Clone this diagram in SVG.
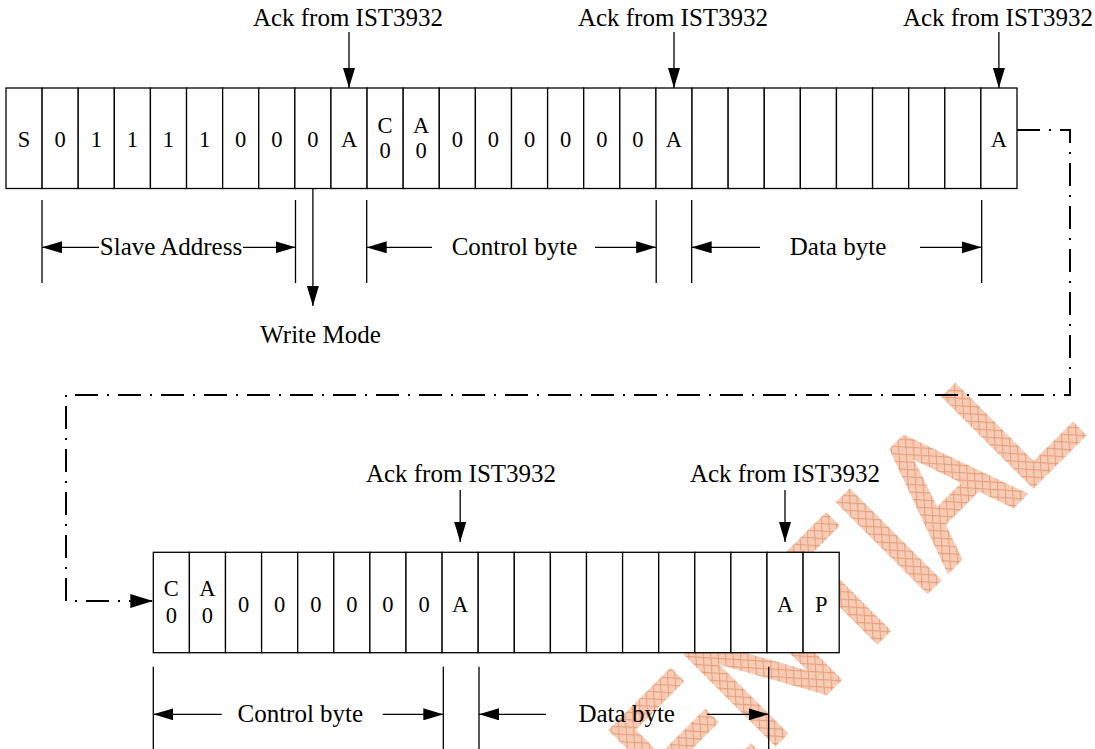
<svg xmlns="http://www.w3.org/2000/svg" width="1095" height="749" viewBox="0 0 1095 749">
<style>
.cell{fill:#fff;stroke:#000;stroke-width:1.3}
.ct{font-family:"Liberation Serif","Times New Roman",serif;font-size:22.5px;text-anchor:middle;fill:#000}
.lbl{font-family:"Liberation Serif","Times New Roman",serif;font-size:25px;text-anchor:middle;fill:#000}
.ln{stroke:#000;stroke-width:1.3;fill:none}
.arr{stroke:#000;stroke-width:1.3;fill:none;marker-end:url(#ah)}
.dd{stroke:#000;stroke-width:2;fill:none;stroke-dasharray:23 9 2 9;marker-end:url(#ahb)}
</style>
<defs>
<marker id="ah" markerUnits="userSpaceOnUse" markerWidth="20" markerHeight="12" viewBox="0 0 20 12" refX="20" refY="6" orient="auto"><path d="M0,0L20,6L0,12z" fill="#000" stroke="none"/></marker>
<marker id="ahb" markerUnits="userSpaceOnUse" markerWidth="23" markerHeight="14" viewBox="0 0 23 14" refX="23" refY="7" orient="auto"><path d="M0,0L23,7L0,14z" fill="#000" stroke="none"/></marker>
<pattern id="hatch" width="7" height="7" patternUnits="userSpaceOnUse" patternTransform="rotate(45)"><rect width="7" height="7" fill="#f6ccb6"/><path d="M0,0.5H7M0.5,0V7" stroke="#e8a07c" stroke-width="1"/></pattern>
</defs>
<rect width="1095" height="749" fill="#fff"/>
<g id="watermark"><text transform="translate(257,1261) rotate(-45) scale(1,1.13)" font-family="'Liberation Sans',Arial,sans-serif" font-size="160" fill="url(#hatch)" stroke="url(#hatch)" stroke-width="5" stroke-linejoin="miter">CONFIDENTIAL</text></g>

<g id="connectors">
<line class="arr" x1="349" y1="32" x2="349" y2="88"/>
<line class="arr" x1="674" y1="32" x2="674" y2="88"/>
<line class="arr" x1="998.9" y1="32" x2="998.9" y2="88"/>
<line class="arr" x1="312.9" y1="188.5" x2="312.9" y2="306"/>
<line class="arr" x1="460.2" y1="490" x2="460.2" y2="542"/>
<line class="arr" x1="785" y1="490" x2="785" y2="542"/>
<path class="dd" d="M1017,130H1070V395H66V601H153.3"/>
<g id="dims-top">
<line class="ln" x1="42" y1="200" x2="42" y2="283"/>
<line class="ln" x1="295.5" y1="200" x2="295.5" y2="283"/>
<line class="ln" x1="366.7" y1="200" x2="366.7" y2="283"/>
<line class="ln" x1="656.2" y1="200" x2="656.2" y2="283"/>
<line class="ln" x1="691.7" y1="200" x2="691.7" y2="283"/>
<line class="ln" x1="981.7" y1="200" x2="981.7" y2="283"/>
<line class="arr" x1="99" y1="247.3" x2="42" y2="247.3"/>
<line class="arr" x1="243" y1="247.3" x2="295.5" y2="247.3"/>
<line class="arr" x1="432" y1="247.3" x2="366.7" y2="247.3"/>
<line class="arr" x1="595" y1="247.3" x2="656.2" y2="247.3"/>
<line class="arr" x1="760" y1="247.3" x2="691.7" y2="247.3"/>
<line class="arr" x1="920" y1="247.3" x2="981.7" y2="247.3"/>
</g>
<g id="dims-bottom">
<line class="ln" x1="153.3" y1="666.7" x2="153.3" y2="749"/>
<line class="ln" x1="443.3" y1="666.7" x2="443.3" y2="749"/>
<line class="ln" x1="479" y1="666.7" x2="479" y2="749"/>
<line class="ln" x1="768.7" y1="666.7" x2="768.7" y2="749"/>
<line class="arr" x1="221.7" y1="714.3" x2="153.3" y2="714.3"/>
<line class="arr" x1="382.7" y1="714.3" x2="443.3" y2="714.3"/>
<line class="arr" x1="546" y1="714.3" x2="479" y2="714.3"/>
<line class="arr" x1="707.3" y1="714.3" x2="768.7" y2="714.3"/>
</g>
</g>

<g id="row1">
<g id="c1-0"><rect class="cell" x="6" y="88" width="36.11" height="100.5"/><text class="ct" x="24.05" y="147">S</text></g>
<g id="c1-1"><rect class="cell" x="42.11" y="88" width="36.11" height="100.5"/><text class="ct" x="60.16" y="147">0</text></g>
<g id="c1-2"><rect class="cell" x="78.21" y="88" width="36.11" height="100.5"/><text class="ct" x="96.26" y="147">1</text></g>
<g id="c1-3"><rect class="cell" x="114.32" y="88" width="36.11" height="100.5"/><text class="ct" x="132.37" y="147">1</text></g>
<g id="c1-4"><rect class="cell" x="150.43" y="88" width="36.11" height="100.5"/><text class="ct" x="168.48" y="147">1</text></g>
<g id="c1-5"><rect class="cell" x="186.54" y="88" width="36.11" height="100.5"/><text class="ct" x="204.59" y="147">1</text></g>
<g id="c1-6"><rect class="cell" x="222.64" y="88" width="36.11" height="100.5"/><text class="ct" x="240.69" y="147">0</text></g>
<g id="c1-7"><rect class="cell" x="258.75" y="88" width="36.11" height="100.5"/><text class="ct" x="276.8" y="147">0</text></g>
<g id="c1-8"><rect class="cell" x="294.86" y="88" width="36.11" height="100.5"/><text class="ct" x="312.91" y="147">0</text></g>
<g id="c1-9"><rect class="cell" x="330.96" y="88" width="36.11" height="100.5"/><text class="ct" x="349.01" y="147">A</text></g>
<g id="c1-10"><rect class="cell" x="367.07" y="88" width="36.11" height="100.5"/><text class="ct" x="385.12" y="133">C</text><text class="ct" x="385.12" y="158">0</text></g>
<g id="c1-11"><rect class="cell" x="403.18" y="88" width="36.11" height="100.5"/><text class="ct" x="421.23" y="133">A</text><text class="ct" x="421.23" y="158">0</text></g>
<g id="c1-12"><rect class="cell" x="439.29" y="88" width="36.11" height="100.5"/><text class="ct" x="457.34" y="147">0</text></g>
<g id="c1-13"><rect class="cell" x="475.39" y="88" width="36.11" height="100.5"/><text class="ct" x="493.44" y="147">0</text></g>
<g id="c1-14"><rect class="cell" x="511.5" y="88" width="36.11" height="100.5"/><text class="ct" x="529.55" y="147">0</text></g>
<g id="c1-15"><rect class="cell" x="547.61" y="88" width="36.11" height="100.5"/><text class="ct" x="565.66" y="147">0</text></g>
<g id="c1-16"><rect class="cell" x="583.71" y="88" width="36.11" height="100.5"/><text class="ct" x="601.76" y="147">0</text></g>
<g id="c1-17"><rect class="cell" x="619.82" y="88" width="36.11" height="100.5"/><text class="ct" x="637.87" y="147">0</text></g>
<g id="c1-18"><rect class="cell" x="655.93" y="88" width="36.11" height="100.5"/><text class="ct" x="673.98" y="147">A</text></g>
<g id="c1-19"><rect class="cell" x="692.04" y="88" width="36.11" height="100.5"/></g>
<g id="c1-20"><rect class="cell" x="728.14" y="88" width="36.11" height="100.5"/></g>
<g id="c1-21"><rect class="cell" x="764.25" y="88" width="36.11" height="100.5"/></g>
<g id="c1-22"><rect class="cell" x="800.36" y="88" width="36.11" height="100.5"/></g>
<g id="c1-23"><rect class="cell" x="836.46" y="88" width="36.11" height="100.5"/></g>
<g id="c1-24"><rect class="cell" x="872.57" y="88" width="36.11" height="100.5"/></g>
<g id="c1-25"><rect class="cell" x="908.68" y="88" width="36.11" height="100.5"/></g>
<g id="c1-26"><rect class="cell" x="944.79" y="88" width="36.11" height="100.5"/></g>
<g id="c1-27"><rect class="cell" x="980.89" y="88" width="36.11" height="100.5"/><text class="ct" x="998.94" y="147">A</text></g>
</g>

<g id="row2">
<g id="c2-0"><rect class="cell" x="153.3" y="552.3" width="36.1" height="100.4"/><text class="ct" x="171.35" y="596">C</text><text class="ct" x="171.35" y="622.5">0</text></g>
<g id="c2-1"><rect class="cell" x="189.4" y="552.3" width="36.1" height="100.4"/><text class="ct" x="207.45" y="596">A</text><text class="ct" x="207.45" y="622.5">0</text></g>
<g id="c2-2"><rect class="cell" x="225.5" y="552.3" width="36.1" height="100.4"/><text class="ct" x="243.55" y="611.5">0</text></g>
<g id="c2-3"><rect class="cell" x="261.6" y="552.3" width="36.1" height="100.4"/><text class="ct" x="279.65" y="611.5">0</text></g>
<g id="c2-4"><rect class="cell" x="297.7" y="552.3" width="36.1" height="100.4"/><text class="ct" x="315.75" y="611.5">0</text></g>
<g id="c2-5"><rect class="cell" x="333.8" y="552.3" width="36.1" height="100.4"/><text class="ct" x="351.85" y="611.5">0</text></g>
<g id="c2-6"><rect class="cell" x="369.9" y="552.3" width="36.1" height="100.4"/><text class="ct" x="387.95" y="611.5">0</text></g>
<g id="c2-7"><rect class="cell" x="406" y="552.3" width="36.1" height="100.4"/><text class="ct" x="424.05" y="611.5">0</text></g>
<g id="c2-8"><rect class="cell" x="442.1" y="552.3" width="36.1" height="100.4"/><text class="ct" x="460.15" y="611.5">A</text></g>
<g id="c2-9"><rect class="cell" x="478.2" y="552.3" width="36.1" height="100.4"/></g>
<g id="c2-10"><rect class="cell" x="514.3" y="552.3" width="36.1" height="100.4"/></g>
<g id="c2-11"><rect class="cell" x="550.4" y="552.3" width="36.1" height="100.4"/></g>
<g id="c2-12"><rect class="cell" x="586.5" y="552.3" width="36.1" height="100.4"/></g>
<g id="c2-13"><rect class="cell" x="622.6" y="552.3" width="36.1" height="100.4"/></g>
<g id="c2-14"><rect class="cell" x="658.7" y="552.3" width="36.1" height="100.4"/></g>
<g id="c2-15"><rect class="cell" x="694.8" y="552.3" width="36.1" height="100.4"/></g>
<g id="c2-16"><rect class="cell" x="730.9" y="552.3" width="36.1" height="100.4"/></g>
<g id="c2-17"><rect class="cell" x="767" y="552.3" width="36.1" height="100.4"/><text class="ct" x="785.05" y="611.5">A</text></g>
<g id="c2-18"><rect class="cell" x="803.1" y="552.3" width="36.1" height="100.4"/><text class="ct" x="821.15" y="611.5">P</text></g>
</g>

<g id="labels">
<text class="lbl" x="348" y="26">Ack from IST3932</text>
<text class="lbl" x="673" y="26">Ack from IST3932</text>
<text class="lbl" x="998" y="26">Ack from IST3932</text>
<text class="lbl" x="171" y="255">Slave Address</text>
<text class="lbl" x="514.5" y="255">Control byte</text>
<text class="lbl" x="838" y="255">Data byte</text>
<text class="lbl" x="320.5" y="343">Write Mode</text>
<text class="lbl" x="461" y="482">Ack from IST3932</text>
<text class="lbl" x="785" y="482">Ack from IST3932</text>
<text class="lbl" x="300.3" y="722">Control byte</text>
<text class="lbl" x="626.7" y="722">Data byte</text>
</g>
</svg>
